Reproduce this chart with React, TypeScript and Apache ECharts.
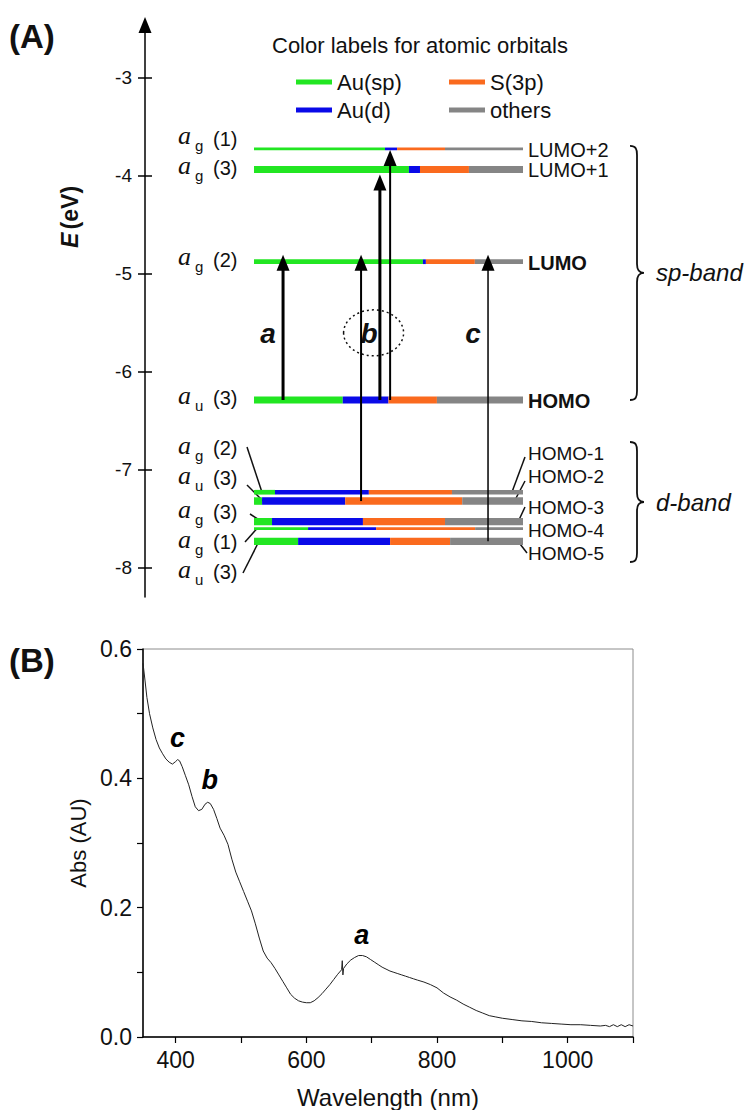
import React, { useEffect, useRef } from 'react';
import * as echarts from 'echarts';

// ---------------- Panel A data ----------------
const levelNames = ['LUMO+2', 'LUMO+1', 'LUMO', 'HOMO', 'HOMO-1', 'HOMO-2', 'HOMO-3', 'HOMO-4', 'HOMO-5'];
const levelEnergies = [-3.73, -3.94, -4.88, -6.29, -7.23, -7.32, -7.53, -7.6, -7.73];
const levelSymmetry = ['g', 'g', 'g', 'u', 'g', 'u', 'g', 'g', 'u'];
const levelIndexLabel = ['(1)', '(3)', '(2)', '(3)', '(2)', '(3)', '(3)', '(1)', '(3)'];
const boldLevels = ['LUMO', 'HOMO'];

const compNames = ['Au(sp)', 'Au(d)', 'S(3p)', 'others'];
const auSp = [48.7, 57.6, 62.8, 33.0, 7.8, 3.0, 6.7, 20.1, 16.4];
const auD = [4.5, 4.1, 1.1, 17.0, 34.9, 30.9, 33.8, 25.3, 34.2];
const s3p = [17.8, 18.2, 18.2, 18.0, 30.9, 43.5, 30.5, 36.8, 22.3];
const others = [29.0, 20.1, 17.9, 32.0, 26.4, 22.6, 29.0, 17.8, 27.1];

const transFrom = ['HOMO', 'HOMO-2', 'HOMO', 'HOMO', 'HOMO-5'];
const transTo = ['LUMO', 'LUMO', 'LUMO+1', 'LUMO+2', 'LUMO'];
const transPos = [10.8, 39.8, 46.8, 50.6, 87.0];
const transLabel = ['a', 'b', '', '', 'c'];

const energyTicks = [-3, -4, -5, -6, -7, -8];

// ---------------- Panel B data ----------------
const wavelength = [350, 353, 356, 360, 365, 370, 375, 380, 385, 390, 395, 400, 403, 406, 410, 415, 420, 425, 430, 435, 440, 445, 449, 453, 458, 463, 468, 474, 480, 486, 492, 498, 504, 510, 516, 522, 528, 534, 540, 546, 552, 558, 564, 570, 576, 582, 588, 594, 600, 606, 612, 618, 624, 630, 636, 642, 648, 654, 655, 656, 657, 662, 668, 674, 680, 686, 692, 698, 704, 710, 716, 722, 728, 734, 740, 746, 752, 758, 764, 770, 780, 790, 800, 810, 820, 830, 840, 850, 860, 870, 880, 890, 900, 915, 930, 945, 960, 975, 990, 1005, 1020, 1035, 1050, 1058, 1064, 1070, 1076, 1082, 1088, 1094, 1100];
const absorbance = [0.578, 0.552, 0.525, 0.5, 0.478, 0.46, 0.447, 0.438, 0.43, 0.425, 0.422, 0.426, 0.429, 0.427, 0.418, 0.404, 0.39, 0.372, 0.356, 0.35, 0.352, 0.36, 0.363, 0.361, 0.352, 0.338, 0.323, 0.312, 0.298, 0.275, 0.255, 0.24, 0.225, 0.21, 0.195, 0.175, 0.153, 0.133, 0.122, 0.115, 0.106, 0.096, 0.086, 0.076, 0.066, 0.06, 0.056, 0.054, 0.053, 0.053, 0.056, 0.061, 0.067, 0.074, 0.081, 0.089, 0.097, 0.104, 0.118, 0.096, 0.106, 0.113, 0.119, 0.123, 0.126, 0.126, 0.124, 0.12, 0.116, 0.112, 0.108, 0.105, 0.102, 0.1, 0.098, 0.096, 0.094, 0.092, 0.09, 0.088, 0.085, 0.081, 0.076, 0.068, 0.062, 0.057, 0.051, 0.046, 0.041, 0.037, 0.033, 0.031, 0.029, 0.027, 0.025, 0.024, 0.022, 0.021, 0.02, 0.019, 0.019, 0.018, 0.017, 0.018, 0.016, 0.019, 0.016, 0.019, 0.016, 0.019, 0.017];
const peakNames = ['c', 'b', 'a'];
const peakWl = [403, 452, 685];
const peakLabelAbs = [0.462, 0.397, 0.157];
const wlTicks = [400, 500, 600, 700, 800, 900, 1000, 1100];
const wlLabels = [400, 600, 800, 1000];
const absTicks = [0, 0.1, 0.2, 0.3, 0.4, 0.5, 0.6];
const absLabels = [0, 0.2, 0.4, 0.6];

// ---------------- styles ----------------
const FONT = '"Liberation Sans", Arial, sans-serif';
const compColors = ['#22e622', '#0a0ae8', '#fa6a1e', '#858585'];
const levelWidths = [2.7, 7, 4.7, 7, 4.7, 7.5, 7.3, 2.7, 7.3];
const transWidths = [3, 2, 3, 2, 1.5];
const tipOffsets = [-7, -7, 5, 1, -7];
const transLabelDx = [-15, 8, 0, 0, -15];
const spLabelDy = [-13, -4, -5, -5];
const dLabelY = [445, 475, 509, 539, 569];
const dLeaderStart = [[247, 447], [247, 485], [250, 514], [245, 542], [243, 573]];
const dLeaderEndDx = [8, 9, 8, 3, 5];
const rightDLabelY = [453, 476, 507, 530, 553];
const rightLeaders = [[[525, 457], [512, 492]], [[525, 481], [515, 500]], [[525, 507], [518, 522]], null, [[517, 540], [527, 553]]];

const bracePath = (H: number) =>
  `M0,0 C6,0 7,3 7,9 L7,${H / 2 - 9} C7,${H / 2 - 3} 9,${H / 2} 14,${H / 2} C9,${H / 2} 7,${H / 2 + 3} 7,${H / 2 + 9} L7,${H - 9} C7,${H - 3} 6,${H} 0,${H}`;

export default function App() {
  const ref = useRef<HTMLDivElement>(null);
  useEffect(() => {
    document.body.style.margin = '0';
    const chart = echarts.init(ref.current!, null, { renderer: 'svg' });
    const comps = [auSp, auD, s3p, others];
    const idx = (n: string) => levelNames.indexOf(n);

    const levelSeries = comps.map((arr, k) => ({
      type: 'custom',
      name: compNames[k],
      xAxisIndex: 0,
      yAxisIndex: 0,
      itemStyle: { color: compColors[k] },
      silent: true,
      data: levelEnergies.map((E, i) => {
        let start = 0;
        for (let j = 0; j < k; j++) start += comps[j][i];
        return [E, start, start + arr[i], i];
      }),
      renderItem: (params: any, api: any) => {
        const E = api.value(0), a = api.value(1), b = api.value(2), i = api.value(3);
        const p0 = api.coord([a, E]);
        const p1 = api.coord([b, E]);
        const w = levelWidths[i];
        return { type: 'rect', shape: { x: p0[0], y: p0[1] - w / 2, width: p1[0] - p0[0], height: w }, style: { fill: compColors[k] } };
      },
    }));

    const transSeries = {
      type: 'custom',
      name: 'transitions',
      xAxisIndex: 0,
      yAxisIndex: 0,
      silent: true,
      z: 5,
      data: transPos.map((x, i) => [x, levelEnergies[idx(transFrom[i])], levelEnergies[idx(transTo[i])], i]),
      renderItem: (params: any, api: any) => {
        const x = api.value(0), e0 = api.value(1), e1 = api.value(2), i = api.value(3);
        const p0 = api.coord([x, e0]);
        const p1 = api.coord([x, e1]);
        const tip = p1[1] + tipOffsets[i];
        const hh = 16, hw = 6.5;
        return {
          type: 'group',
          children: [
            { type: 'line', shape: { x1: p0[0], y1: p0[1], x2: p0[0], y2: tip + hh - 1 }, style: { stroke: '#000', lineWidth: transWidths[i] } },
            { type: 'polygon', shape: { points: [[p0[0] - hw, tip + hh], [p0[0] + hw, tip + hh], [p0[0], tip]] }, style: { fill: '#000' } },
          ],
        };
      },
    };

    const spectrum = {
      type: 'line',
      name: 'spectrum',
      xAxisIndex: 1,
      yAxisIndex: 2,
      showSymbol: false,
      silent: true,
      lineStyle: { color: '#222', width: 1 },
      data: wavelength.map((w, i) => [w, absorbance[i]]),
      markPoint: {
        symbol: 'circle',
        symbolSize: 1,
        itemStyle: { color: 'rgba(0,0,0,0)' },
        label: { show: true, position: 'inside', formatter: (p: any) => p.name, fontSize: 27, fontWeight: 'bold', fontStyle: 'italic', color: '#000', fontFamily: FONT },
        data: peakNames.map((n, i) => ({ name: n, coord: [peakWl[i], peakLabelAbs[i]] })),
      },
    };

    const legendBase = {
      orient: 'vertical',
      top: 66,
      itemWidth: 36,
      itemHeight: 5,
      itemGap: 6,
      icon: 'rect',
      selectedMode: false,
      textStyle: { fontSize: 22, color: '#111', fontFamily: FONT, lineHeight: 22 },
    };

    const yA = {
      gridIndex: 0, type: 'value', min: -8.298, max: -2.467, position: 'left', offset: 109,
      splitLine: { show: false },
    };

    const option: any = {
      animation: false,
      backgroundColor: '#fff',
      legend: [
        { ...legendBase, left: 291, data: ['Au(sp)', 'Au(d)'] },
        { ...legendBase, left: 444, data: ['S(3p)', 'others'] },
      ],
      grid: [
        { left: 254, width: 269, top: 25, height: 572 },
        { left: 143, right: 116, top: 649, bottom: 73, show: true, borderColor: '#8c8c8c', borderWidth: 1 },
      ],
      xAxis: [
        { gridIndex: 0, type: 'value', min: 0, max: 100, show: false },
        {
          gridIndex: 1, type: 'value', min: 350, max: 1100,
          name: 'Wavelength (nm)', nameLocation: 'middle', nameGap: 48,
          nameTextStyle: { fontSize: 24, color: '#111', fontFamily: FONT },
          axisLine: { show: true, onZero: false, lineStyle: { color: '#000', width: 1.5 } },
          axisTick: { show: true, length: 6, lineStyle: { color: '#000', width: 1.2 }, customValues: wlTicks },
          axisLabel: { customValues: wlLabels, fontSize: 23, color: '#111', fontFamily: FONT, margin: 11, formatter: (v: number) => String(v) },
          splitLine: { show: false },
        },
      ],
      yAxis: [
        {
          ...yA,
          axisLine: { show: true, onZero: false, lineStyle: { color: '#000', width: 1.5 }, symbol: ['none', 'triangle'], symbolSize: [13, 16] },
          axisTick: { show: true, length: 7, lineStyle: { color: '#000', width: 1.5 }, customValues: energyTicks },
          axisLabel: { customValues: energyTicks, fontSize: 19, color: '#111', fontFamily: FONT, margin: 13 },
        },
        {
          ...yA,
          axisLine: { show: false, onZero: false },
          axisTick: { show: true, inside: true, length: 7, lineStyle: { color: '#000', width: 1.5 }, customValues: energyTicks },
          axisLabel: { show: false },
        },
        {
          gridIndex: 1, type: 'value', min: 0, max: 0.6,
          name: 'Abs (AU)', nameLocation: 'middle', nameGap: 52,
          nameTextStyle: { fontSize: 22, color: '#111', fontFamily: FONT },
          axisLine: { show: true, onZero: false, lineStyle: { color: '#000', width: 1.5 } },
          axisTick: { show: true, length: 6, lineStyle: { color: '#000', width: 1.2 }, customValues: absTicks },
          axisLabel: { customValues: absLabels, fontSize: 23, color: '#111', fontFamily: FONT, margin: 11, formatter: (v: number) => v.toFixed(1) },
          splitLine: { show: false },
        },
      ],
      series: [...levelSeries, transSeries, spectrum],
    };
    chart.setOption(option);

    // ---------- annotations positioned from the axes ----------
    const yPx = (E: number) => chart.convertToPixel({ yAxisIndex: 0 } as any, E) as unknown as number;
    const xPx = (p: number) => chart.convertToPixel({ xAxisIndex: 0 } as any, p) as unknown as number;
    const ly = levelEnergies.map(yPx);
    const x0 = xPx(0);
    const x100 = xPx(100);

    const g: any[] = [];
    const txt = (x: number, y: number, text: string, font: string, align = 'left', extra: any = {}) =>
      g.push({ type: 'text', x, y, silent: true, style: { text, font, fill: '#111', textAlign: align, textVerticalAlign: 'middle', ...extra } });

    txt(9, 36, '(A)', `bold 33px ${FONT}`);
    txt(9, 660, '(B)', `bold 33px ${FONT}`);
    txt(272, 45, 'Color labels for atomic orbitals', `22px ${FONT}`);

    // E (eV) axis label
    g.push({
      type: 'text', x: 70, y: 217, rotation: Math.PI / 2, silent: true,
      style: {
        text: '{e|E} {n|(eV)}', textAlign: 'center', textVerticalAlign: 'middle',
        rich: {
          e: { fontSize: 23, fontWeight: 'bold', fontStyle: 'italic', fontFamily: FONT, fill: '#111' },
          n: { fontSize: 23, fontWeight: 'bold', fontFamily: FONT, fill: '#111' },
        },
      },
    });

    // orbital symmetry labels (left)
    const orbLabel = (x: number, y: number, i: number) => {
      txt(x, y, 'a', `italic 26px "Liberation Serif", serif`);
      txt(x + 17, y + 10, levelSymmetry[i], `15px ${FONT}`);
      txt(x + 35, y + 3, levelIndexLabel[i], `20px ${FONT}`);
    };
    levelNames.forEach((n, i) => {
      if (i < 4) {
        orbLabel(178, ly[i] + spLabelDy[i], i);
      } else {
        const d = i - 4;
        orbLabel(178, dLabelY[d], i);
        g.push({ type: 'line', silent: true, shape: { x1: dLeaderStart[d][0], y1: dLeaderStart[d][1], x2: x0 + dLeaderEndDx[d], y2: ly[i] }, style: { stroke: '#111', lineWidth: 1.5 } });
      }
    });

    // right level names
    levelNames.forEach((n, i) => {
      const bold = boldLevels.indexOf(n) >= 0;
      const font = `${bold ? 'bold ' : ''}20px ${FONT}`;
      if (i < 4) {
        txt(x100 + 5, ly[i] + 1, n, font);
      } else {
        const d = i - 4;
        txt(x100 + 5, rightDLabelY[d], n, `19px ${FONT}`);
        const L = rightLeaders[d];
        if (L) g.push({ type: 'line', silent: true, shape: { x1: L[0][0], y1: L[0][1], x2: L[1][0], y2: L[1][1] }, style: { stroke: '#111', lineWidth: 1.5 } });
      }
    });

    // braces
    const spTop = ly[0] - 3, spBot = ly[3];
    const dTop = 442, dBot = 562;
    echarts.graphic.registerShape('braceSp', echarts.graphic.extendPath(bracePath(spBot - spTop), {}) as any);
    echarts.graphic.registerShape('braceD', echarts.graphic.extendPath(bracePath(dBot - dTop), {}) as any);
    g.push({ type: 'braceSp', x: 630, y: spTop, silent: true, style: { stroke: '#111', fill: 'none', lineWidth: 1.8 } });
    g.push({ type: 'braceD', x: 630, y: dTop, silent: true, style: { stroke: '#111', fill: 'none', lineWidth: 1.8 } });
    txt(656, (spTop + spBot) / 2, 'sp-band', `italic 24px ${FONT}`);
    txt(656, (dTop + dBot) / 2, 'd-band', `italic 24px ${FONT}`);

    // transition labels
    const midY = (ly[idx('LUMO')] + ly[idx('HOMO')]) / 2 + 3;
    transLabel.forEach((t, i) => {
      if (!t) return;
      txt(xPx(transPos[i]) + transLabelDx[i], midY, t, `bold italic 28px ${FONT}`, 'center');
    });
    // dotted ellipse around b transitions
    const bx = (xPx(transPos[1]) + xPx(transPos[3])) / 2 - 2;
    g.push({ type: 'ellipse', silent: true, shape: { cx: bx, cy: midY - 1, rx: 30, ry: 23 }, style: { stroke: '#111', fill: 'none', lineWidth: 1.5, lineDash: [2, 3] } });

    chart.setOption({ graphic: g });
    return () => chart.dispose();
  }, []);
  return <div ref={ref} style={{ width: 749, height: 1110 }} />;
}
